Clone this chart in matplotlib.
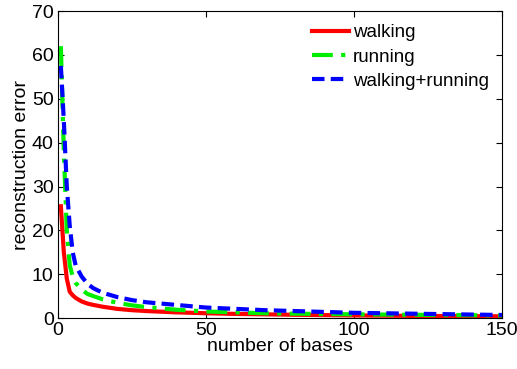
import matplotlib
matplotlib.use("Agg")
import matplotlib.pyplot as plt

plt.rcParams['font.family'] = ['Liberation Sans', 'DejaVu Sans']

bases = [1, 2, 3, 4, 5, 6, 8, 10, 12, 15, 20, 25, 30, 40, 50, 60, 70, 80, 100, 120, 150]

walking = [25.5, 15, 9, 6, 5.2, 4.6, 3.8, 3.3, 3.0, 2.6, 2.1, 1.8, 1.6, 1.3, 1.1,
           0.95, 0.85, 0.75, 0.6, 0.5, 0.4]
running = [62, 38, 20, 12, 9.5, 8, 6.5, 5.5, 5.0, 4.3, 3.5, 2.9, 2.5, 1.9, 1.5,
           1.3, 1.1, 1.0, 0.85, 0.75, 0.6]
walk_run = [57.5, 45, 30, 21, 15, 12, 9.5, 7.8, 6.8, 5.8, 4.8, 4.1, 3.6, 3.0, 2.4,
            2.1, 1.8, 1.6, 1.2, 1.0, 0.7]

fig = plt.figure(figsize=(5.17, 3.69), dpi=100)
ax = fig.add_axes([0.112, 0.138, 0.859, 0.832])

ax.plot(bases, walking, color='red', lw=3, label='walking')
ax.plot(bases, running, color='#00ee00', lw=3, dashes=(5, 2, 1, 2), label='running')
ax.plot(bases, walk_run, color='blue', lw=3, dashes=(3, 1.5), label='walking+running')

ax.set_xlim(0, 150)
ax.set_ylim(0, 70)
ax.set_xticks([0, 50, 100, 150])
ax.set_yticks(range(0, 71, 10))
ax.tick_params(direction='in', top=True, right=True, labelsize=14, length=4)
ax.tick_params(axis='x', pad=3)
ax.tick_params(axis='y', pad=3)
ax.set_xlabel('number of bases', fontsize=14, labelpad=-1)
ax.set_ylabel('reconstruction error', fontsize=14, labelpad=1)

ax.legend(loc='upper right', frameon=False, fontsize=13.5, handlelength=2.0,
          handletextpad=0.2, labelspacing=0.38, borderaxespad=0.3)

fig.savefig('out.png', dpi=100)
